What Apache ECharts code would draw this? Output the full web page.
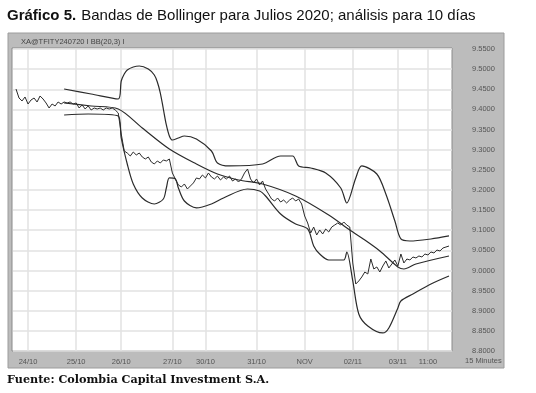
<!DOCTYPE html>
<html><head><meta charset="utf-8">
<script src="https://cdn.jsdelivr.net/npm/echarts@6/dist/echarts.min.js"></script>
<style>html,body{margin:0;padding:0;background:#fff}#c{width:536px;height:393px}</style>
</head><body><div id="c"></div>
<script>
// time slots (15-minute bars); labels only at day boundaries
const slotCount = 147;
const tickSlots = [5, 21, 36, 53, 64, 81, 97, 113, 128, 138];
const tickLabels = ['24/10', '25/10', '26/10', '27/10', '30/10', '31/10', 'NOV', '02/11', '03/11', '11:00'];

// price (starting at slot 1)
const priceStart = 1;
const priceVals = [
 9.4507, 9.4283, 9.4209, 9.4308, 9.4134, 9.4234, 9.4283, 9.4184, 9.4333, 9.4258,
 9.4159, 9.4035, 9.4134, 9.4085, 9.4184, 9.4134, 9.4184, 9.4159, 9.4184, 9.4134,
 9.4159, 9.4035, 9.4110, 9.4010, 9.4085, 9.3985, 9.4035, 9.4010, 9.4035, 9.3985,
 9.4035, 9.4010, 9.4035, 9.3985, 9.3911, 9.3389, 9.2967, 9.2917, 9.2843, 9.2942,
 9.2868, 9.2917, 9.2818, 9.2768, 9.2818, 9.2694, 9.2644, 9.2719, 9.2669, 9.2744,
 9.2719, 9.2768, 9.2421, 9.2272, 9.2123, 9.2073, 9.2148, 9.2023, 9.2098, 9.2173,
 9.2297, 9.2272, 9.2371, 9.2297, 9.2421, 9.2321, 9.2272, 9.2346, 9.2247, 9.2321,
 9.2272, 9.2346, 9.2222, 9.2272, 9.2197, 9.2272, 9.2421, 9.2520, 9.2272, 9.2173,
 9.2272, 9.2123, 9.2222, 9.2023, 9.1900, 9.1775, 9.1725, 9.1800, 9.1700, 9.1750,
 9.1676, 9.1750, 9.1800, 9.1725, 9.1775, 9.1651, 9.1353, 9.1179, 9.0931, 9.1079,
 9.0881, 9.1005, 9.0906, 9.1030, 9.0956, 9.1079, 9.1129, 9.1179, 9.1129, 9.1204,
 9.1129, 9.1079, 9.0186, 8.9664, 8.9739, 8.9838, 8.9962, 8.9913, 9.0285, 9.0037,
 9.0087, 8.9962, 9.0111, 9.0236, 9.0062, 9.0161, 9.0260, 9.0111, 9.0409, 9.0186,
 9.0285, 9.0260, 9.0335, 9.0310, 9.0360, 9.0335, 9.0409, 9.0384, 9.0459, 9.0434,
 9.0508, 9.0484, 9.0558, 9.0583, 9.0607
];

// Bollinger bands: [slot, value]
const upperBand = [
 [17, 9.4507], [26, 9.4382], [35, 9.4258], [36, 9.4705], [37, 9.4879], [38, 9.4978],
 [40, 9.5053], [42, 9.5078], [45, 9.5003], [47, 9.4854], [48, 9.4680], [49, 9.4407],
 [50, 9.4010], [51, 9.3613], [52, 9.3340], [53, 9.3240], [55, 9.3290], [57, 9.3340],
 [61, 9.3265], [66, 9.2967], [68, 9.2669], [72, 9.2595], [83, 9.2644], [89, 9.2843],
 [93, 9.2843], [95, 9.2595], [99, 9.2545], [104, 9.2421], [109, 9.2048], [111, 9.1676],
 [114, 9.2297], [116, 9.2595], [121, 9.2396], [124, 9.1900], [127, 9.1229], [129, 9.0782],
 [132, 9.0732], [139, 9.0782], [145, 9.0857]
];
const middleBand = [
 [17, 9.4159], [26, 9.4085], [35, 9.4010], [43, 9.3538], [52, 9.3017], [61, 9.2644],
 [68, 9.2396], [75, 9.2247], [83, 9.2148], [94, 9.1850], [105, 9.1378], [112, 9.1005],
 [116, 9.0807], [122, 9.0484], [128, 9.0087], [130, 9.0037], [134, 9.0161], [145, 9.0360]
];
const lowerBand = [
 [17, 9.3861], [25, 9.3886], [35, 9.3836], [36, 9.3290], [38, 9.2644], [40, 9.2148],
 [43, 9.1800], [47, 9.1651], [50, 9.1775], [51, 9.2048], [52, 9.2297], [54, 9.2272],
 [55, 9.2048], [57, 9.1725], [61, 9.1552], [66, 9.1651], [70, 9.1800], [78, 9.2023],
 [82, 9.1974], [84, 9.1850], [89, 9.1403], [94, 9.1154], [98, 9.1030], [100, 9.0608],
 [102, 9.0409], [105, 9.0260], [110, 9.0260], [111, 9.0459], [113, 8.9740], [115, 8.8920],
 [118, 8.8622], [123, 8.8448], [125, 8.8572], [128, 8.9069], [129, 8.9243], [133, 8.9416],
 [139, 8.9665], [145, 8.9863]
];

const yMin = 8.80, yMax = 9.55, yStep = 0.05;

const categories = [];
for (let i = 0; i < slotCount; i++) {
  const k = tickSlots.indexOf(i);
  categories.push(k >= 0 ? tickLabels[k] : '');
}
const priceData = priceVals.map((v, i) => [priceStart + i, v]);
const isTick = (i) => tickSlots.indexOf(i) >= 0;

const lineColor = '#2b2b2b';
const chart = echarts.init(document.getElementById('c'), null, {renderer: 'canvas'});
chart.setOption({
  backgroundColor: '#ffffff',
  animation: false,
  title: [
    {
      text: '{b|Gráfico 5.} {n|Bandas de Bollinger para Julios 2020; análisis para 10 días}',
      left: 7, top: 7, padding: 0,
      textStyle: {
        rich: {
          b: {fontFamily: 'Liberation Sans, Arial, sans-serif', fontWeight: 'bold', fontSize: 15, color: '#111'},
          n: {fontFamily: 'Liberation Sans, Arial, sans-serif', fontWeight: 'normal', fontSize: 15, color: '#111'}
        }
      }
    },
    {
      text: 'Fuente: Colombia Capital Investment S.A.',
      left: 7, top: 375, padding: 0,
      textStyle: {fontFamily: 'DejaVu Serif, serif', fontWeight: 'bold', fontSize: 11.2, color: '#111'}
    }
  ],
  graphic: [
    {type: 'rect', z: -10, shape: {x: 8, y: 33, width: 496, height: 335},
     style: {fill: '#bcbcbc', stroke: '#9c9c9c', lineWidth: 1}},
    {type: 'rect', z: -9, shape: {x: 12, y: 48, width: 440, height: 303},
     style: {fill: '#ffffff', stroke: '#8a8a8a', lineWidth: 1}},
    {type: 'text', left: 21, top: 38,
     style: {text: 'XA@TFITY240720 I BB(20,3) I', fontSize: 7.5, fill: '#444',
             fontFamily: 'Liberation Sans, Arial, sans-serif'}}
  ],
  grid: {left: 13, right: 84, top: 49, bottom: 42, containLabel: false},
  xAxis: {
    type: 'category',
    data: categories,
    boundaryGap: false,
    name: '15 Minutes',
    nameLocation: 'end',
    nameGap: 13,
    nameTextStyle: {fontSize: 7.5, color: '#555', verticalAlign: 'top', align: 'left',
                    padding: [6, 0, 0, 0], fontFamily: 'Liberation Sans, Arial, sans-serif'},
    axisLine: {show: false},
    axisTick: {show: false},
    axisLabel: {interval: (i) => isTick(i), fontSize: 7.5, color: '#555', margin: 7,
                fontFamily: 'Liberation Sans, Arial, sans-serif'},
    splitLine: {show: true, interval: (i) => isTick(i), lineStyle: {color: '#e2e2e2', width: 1.5}}
  },
  yAxis: {
    type: 'value',
    position: 'right',
    min: yMin, max: yMax, interval: yStep,
    axisLine: {show: false},
    axisTick: {show: false},
    axisLabel: {formatter: (v) => v.toFixed(4), fontSize: 7.5, color: '#555', margin: 20,
                fontFamily: 'Liberation Sans, Arial, sans-serif'},
    splitLine: {show: true, lineStyle: {color: '#e2e2e2', width: 1.5}}
  },
  series: [
    {name: 'Upper', type: 'line', data: upperBand, smooth: 0.3, showSymbol: false,
     lineStyle: {color: lineColor, width: 1.2}},
    {name: 'Middle', type: 'line', data: middleBand, smooth: 0.3, showSymbol: false,
     lineStyle: {color: lineColor, width: 1.2}},
    {name: 'Lower', type: 'line', data: lowerBand, smooth: 0.3, showSymbol: false,
     lineStyle: {color: lineColor, width: 1.2}},
    {name: 'Price', type: 'line', data: priceData, showSymbol: false,
     lineStyle: {color: lineColor, width: 1}}
  ]
});
</script></body></html>
